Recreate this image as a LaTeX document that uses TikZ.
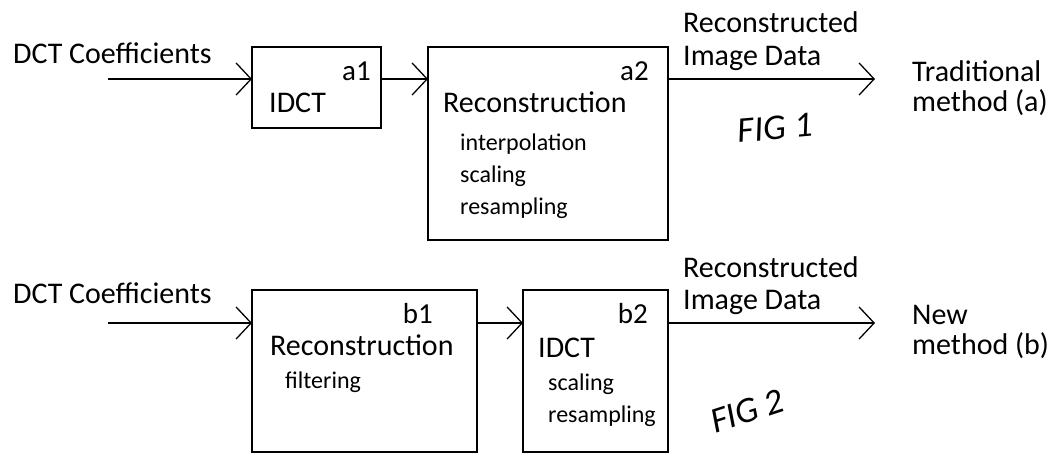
\documentclass[tikz,border=0pt]{standalone}
\usepackage{fontspec}
\setmainfont{Carlito}
\usetikzlibrary{arrows.meta}
\tikzset{
  blk/.style={draw, line width=2.5pt, inner sep=0pt, outer sep=0pt},
  conn/.style={line width=1.3pt, -{Straight Barb[length=15pt,width=32pt,line width=1.3pt]}},
  txt/.style={inner sep=0pt, anchor=base west, font=\fontsize{30}{33}\selectfont},
  lbl/.style={inner sep=0pt, anchor=base east, font=\fontsize{29}{33}\selectfont},
  small/.style={inner sep=0pt, anchor=base west, font=\fontsize{24}{28}\selectfont},
  hand/.style={inner sep=0pt, font=\fontsize{36}{38}\itshape}
}
\begin{document}
\begin{tikzpicture}[x=1pt,y=-1pt]
\useasboundingbox (0,0) rectangle (1051,453);
% ---- top row (traditional method) ----
\node[blk, minimum width=129pt, minimum height=81pt] (a1) at (316.5,87.5) {};
\node[blk, minimum width=240pt, minimum height=193pt] (a2) at (548,143.5) {};
\node[txt] (inA) at (13,63) {DCT Coefficients};
\coordinate (sA) at (108,79);
\coordinate (eA) at (875,79);
\node[lbl] (la1) at (371,80) {a1};
\node[txt] (ta1) at (269,112) {IDCT};
\node[lbl] (la2) at (649,80) {a2};
\node[txt] (ta2) at (443,112) {Reconstruction};
\node[small] (ta2i) at (460,150) {interpolation};
\node[small] (ta2s) at (460,182) {scaling};
\node[small] (ta2r) at (460,214) {resampling};
\node[txt] (outA1) at (683,32) {Reconstructed};
\node[txt] (outA2) at (683,65) {Image Data};
\node[txt] (mA1) at (912,81) {Traditional};
\node[txt] (mA2) at (912,111) {method (a)};
\node[hand, rotate=5] (figA) at (775,128) {FIG 1};
\draw[conn] (sA) -- (sA -| a1.west);
\draw[conn] (sA -| a1.east) -- (sA -| a2.west);
\draw[conn] (sA -| a2.east) -- (eA);
% ---- bottom row (new method) ----
\node[blk, minimum width=225pt, minimum height=162pt] (b1) at (364.5,371) {};
\node[blk, minimum width=145pt, minimum height=162pt] (b2) at (595.5,371) {};
\node[txt] (inB) at (13,303) {DCT Coefficients};
\coordinate (sB) at (108,323);
\coordinate (eB) at (875,323);
\node[lbl] (lb1) at (433,323) {b1};
\node[txt] (tb1) at (270,355) {Reconstruction};
\node[small] (tb1f) at (285,388) {filtering};
\node[lbl] (lb2) at (648,323) {b2};
\node[txt] (tb2) at (538,357) {IDCT};
\node[small] (tb2s) at (548,390) {scaling};
\node[small] (tb2r) at (548,422) {resampling};
\node[txt] (outB1) at (683,277) {Reconstructed};
\node[txt] (outB2) at (683,309) {Image Data};
\node[txt] (mB1) at (912,324) {New};
\node[txt] (mB2) at (912,354) {method (b)};
\node[hand, rotate=18] (figB) at (747,411) {FIG 2};
\draw[conn] (sB) -- (sB -| b1.west);
\draw[conn] (sB -| b1.east) -- (sB -| b2.west);
\draw[conn] (sB -| b2.east) -- (eB);
\end{tikzpicture}
\end{document}
